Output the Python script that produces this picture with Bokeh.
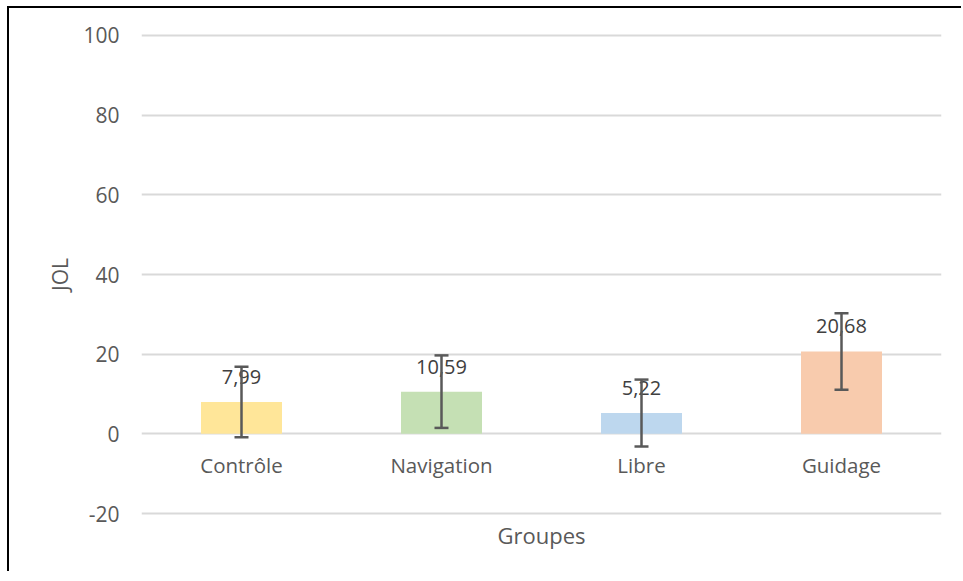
from bokeh.plotting import figure
from bokeh.models import ColumnDataSource, Whisker, FixedTicker, TeeHead, Range1d
from bokeh.core.properties import value
from bokeh.embed import file_html
from bokeh.resources import INLINE

groups = ["Contrôle", "Navigation", "Libre", "Guidage"]
means = [7.99, 10.59, 5.22, 20.68]
sds = [8.85, 9.1, 8.4, 9.6]
colors = ["#FFE699", "#C5E0B4", "#BDD7EE", "#F8CBAD"]
y_ticks = [-20, 0, 20, 40, 60, 80, 100]

labels = [f"{m:.2f}".replace(".", ",") for m in means]
src = ColumnDataSource(dict(
    g=groups, m=means, c=colors, lab=labels,
    up=[m + s for m, s in zip(means, sds)],
    lo=[m - s for m, s in zip(means, sds)],
    zero=[0] * len(groups),
))

FONT = "Open Sans"
GREY = "#595959"

p = figure(x_range=groups, y_range=Range1d(-20.5, 100.5), width=954, height=565,
           output_backend="svg", toolbar_location=None,
           min_border_left=132, min_border_right=22, min_border_top=25, min_border_bottom=58)
p.outline_line_color = None
p.background_fill_color = "white"
p.border_fill_color = "white"
p.styles = {"margin-left": "7px", "margin-top": "6px",
            "border-left": "2px solid black", "border-top": "2px solid black"}

p.vbar(x="g", top="m", width=0.405, fill_color="c", line_color=None, source=src)

p.text(x="g", y="m", text="lab", source=src, y_offset=-25,
       text_align="center", text_baseline="middle",
       text_font=value(FONT), text_font_size="20px", text_color="#404040")

w = Whisker(base="g", upper="up", lower="lo", source=src, level="annotation",
            line_color=GREY, line_width=2.5,
            upper_head=TeeHead(size=14, line_color=GREY, line_width=2.5),
            lower_head=TeeHead(size=14, line_color=GREY, line_width=2.5))
p.add_layout(w)

p.text(x="g", y="zero", text="g", source=src, y_offset=31,
       text_align="center", text_baseline="middle",
       text_font=value(FONT), text_font_size="20.5px", text_color=GREY)

p.xgrid.grid_line_color = None
p.ygrid.grid_line_color = "#D9D9D9"
p.ygrid.grid_line_width = 2
p.yaxis.ticker = FixedTicker(ticks=y_ticks)
p.yaxis.major_label_overrides = {t: str(t) for t in y_ticks}

p.yaxis.axis_line_color = None
p.yaxis.major_tick_line_color = None
p.yaxis.minor_tick_line_color = None
p.yaxis.major_label_text_font = FONT
p.yaxis.major_label_text_font_size = "21px"
p.yaxis.major_label_text_color = GREY
p.yaxis.major_label_standoff = 16
p.yaxis.axis_label = "JOL"
p.yaxis.axis_label_text_font = FONT
p.yaxis.axis_label_text_font_size = "21px"
p.yaxis.axis_label_text_font_style = "normal"
p.yaxis.axis_label_text_color = GREY
p.yaxis.axis_label_standoff = 6

p.xaxis.axis_line_color = None
p.xaxis.major_tick_line_color = None
p.xaxis.minor_tick_line_color = None
p.xaxis.major_label_text_font_size = "0px"
p.xaxis.major_label_standoff = 0
p.xaxis.axis_label = "Groupes"
p.xaxis.axis_label_text_font = FONT
p.xaxis.axis_label_text_font_size = "22px"
p.xaxis.axis_label_text_font_style = "normal"
p.xaxis.axis_label_text_color = GREY
p.xaxis.axis_label_standoff = -2

open("out.html", "w").write(file_html(p, INLINE))
